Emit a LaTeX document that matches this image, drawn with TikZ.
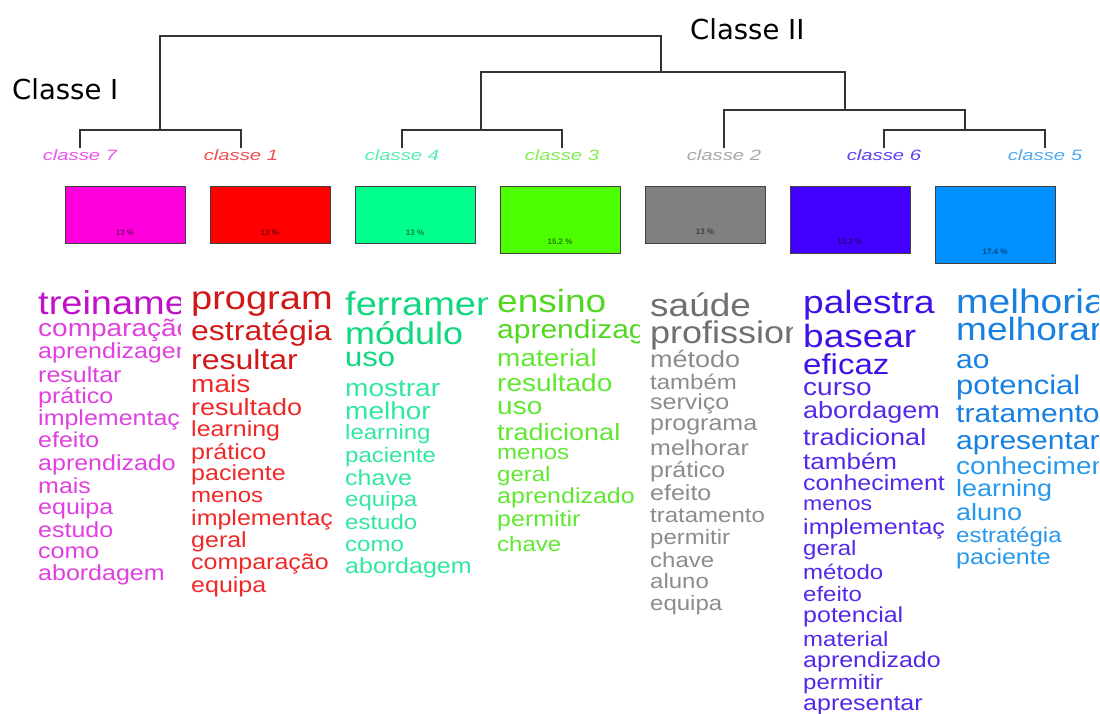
\documentclass[tikz,border=0pt]{standalone}
\usepackage{fontspec}
\setmainfont{Liberation Sans}
\newfontfamily\verd{DejaVu Sans}
\definecolor{bx7}{HTML}{FF00DD}
\definecolor{bx1}{HTML}{FF0000}
\definecolor{bx4}{HTML}{00FF8C}
\definecolor{bx3}{HTML}{4DFF00}
\definecolor{bx2}{HTML}{808080}
\definecolor{bx6}{HTML}{4400FF}
\definecolor{bx5}{HTML}{0090FF}
\definecolor{lb7}{HTML}{EE55EE}
\definecolor{lb1}{HTML}{F05050}
\definecolor{lb4}{HTML}{55EEB0}
\definecolor{lb3}{HTML}{80EE50}
\definecolor{lb2}{HTML}{A8A8A8}
\definecolor{lb6}{HTML}{6040EE}
\definecolor{lb5}{HTML}{50A8F0}
\definecolor{cA}{HTML}{000000}
\definecolor{cB}{HTML}{000000}
\newcounter{wc}
\newcommand\sx{1.15}
\newcommand\wrd[3]{\stepcounter{wc}%
  \ifdim#1pt>29pt\colorlet{wcol}{cA}\else\colorlet{wcol}{cB}\fi
  \pgfmathsetmacro\fsz{#1/\sx}%
  \node[word,text=wcol,font=\fontsize{\fsz}{\fsz}\selectfont] (w\thewc) at (\colx,#2) {\scalebox{\sx}[1]{#3}};}
\newcommand\clab[1]{\scalebox{1.35}[1]{#1}}
\tikzset{
  word/.style={anchor=base west,inner sep=0pt},
  dend/.style={draw=black!80,line width=1.4pt},
  cls/.style={anchor=north,inner sep=1pt,font=\fontsize{15}{15}\selectfont\itshape},
  box/.style={draw=black!75,line width=1.3pt,anchor=north west,minimum width=120pt,inner sep=0pt},
  pct/.style={inner sep=0pt,font=\fontsize{8}{8}\selectfont\bfseries},
  big/.style={inner sep=0pt,anchor=base west,font=\verd\fontsize{27.5}{27.5}\selectfont}
}
\begin{document}
\begin{tikzpicture}[x=1pt,y=-1pt]
\useasboundingbox[fill=white] (0,0) rectangle (1100,714);
% class labels
\node[cls,text=lb7] (c7) at (80,148) {\clab{classe 7}};
\node[cls,text=lb1] (c1) at (241,148) {\clab{classe 1}};
\node[cls,text=lb4] (c4) at (402,148) {\clab{classe 4}};
\node[cls,text=lb3] (c3) at (562,148) {\clab{classe 3}};
\node[cls,text=lb2] (c2) at (724,148) {\clab{classe 2}};
\node[cls,text=lb6] (c6) at (884,148) {\clab{classe 6}};
\node[cls,text=lb5] (c5) at (1045,148) {\clab{classe 5}};
% dendrogram junctions
\coordinate (j71) at (160,130);
\coordinate (j43) at (481,130);
\coordinate (j65) at (965,130);
\coordinate (j265) at (845,110);
\coordinate (jR) at (661,72);
\coordinate (jT) at (410,36);
\draw[dend] (c7.north) |- (j71) -| (c1.north);
\draw[dend] (c4.north) |- (j43) -| (c3.north);
\draw[dend] (c6.north) |- (j65) -| (c5.north);
\draw[dend] (c2.north) |- (j265) -| (j65);
\draw[dend] (j43) |- (jR) -| (j265);
\draw[dend] (j71) |- (jT) -| (jR);
\node[big] (cI) at (12,100) {Classe I};
\node[big] (cII) at (690,40) {Classe II};
% boxes
\node[box,fill=bx7,minimum height=57pt] (b7) at (65,186) {};
\node[box,fill=bx1,minimum height=57pt] (b1) at (210,186) {};
\node[box,fill=bx4,minimum height=57pt] (b4) at (355,186) {};
\node[box,fill=bx3,minimum height=67pt] (b3) at (500,186) {};
\node[box,fill=bx2,minimum height=57pt] (b2) at (645,186) {};
\node[box,fill=bx6,minimum height=67pt] (b6) at (790,186) {};
\node[box,fill=bx5,minimum height=77pt] (b5) at (935,186) {};
\node[pct,text=bx7!50!black] (p7) at (125,233) {13 \%};
\node[pct,text=bx1!50!black] (p1) at (270,233) {13 \%};
\node[pct,text=bx4!50!black] (p4) at (415,233) {13 \%};
\node[pct,text=bx3!50!black] (p3) at (560,242) {15.2 \%};
\node[pct,text=bx2!50!black] (p2) at (705,232) {13 \%};
\node[pct,text=bx6!50!black] (p6) at (850,242) {15.2 \%};
\node[pct,text=bx5!50!black] (p5) at (995,252) {17.4 \%};
% column 7
\begin{scope}
\def\colx{38}
\definecolor{cA}{HTML}{C010C8}\definecolor{cB}{HTML}{E040E0}
\clip (\colx,280) rectangle (\colx+142,714);
\wrd{38}{314}{treinamento}
\wrd{28}{336}{comparação}
\wrd{25}{358}{aprendizagem}
\wrd{25}{382}{resultar}
\wrd{25}{403}{prático}
\wrd{25}{425}{implementação}
\wrd{25}{447}{efeito}
\wrd{25}{470}{aprendizado}
\wrd{25}{493}{mais}
\wrd{25}{514}{equipa}
\wrd{25}{537}{estudo}
\wrd{25}{558}{como}
\wrd{25}{580}{abordagem}
\end{scope}
% column 1
\begin{scope}
\def\colx{191}
\definecolor{cA}{HTML}{D01818}\definecolor{cB}{HTML}{F02828}
\clip (\colx,280) rectangle (\colx+142,714);
\wrd{38}{309}{program}
\wrd{32}{340}{estratégia}
\wrd{32}{369}{resultar}
\wrd{28}{392}{mais}
\wrd{27}{415}{resultado}
\wrd{25}{436}{learning}
\wrd{25}{459}{prático}
\wrd{25}{480}{paciente}
\wrd{24}{502}{menos}
\wrd{25}{525}{implementação}
\wrd{25}{547}{geral}
\wrd{25}{569}{comparação}
\wrd{25}{592}{equipa}
\end{scope}
% column 4
\begin{scope}
\def\colx{345}
\definecolor{cA}{HTML}{10D880}\definecolor{cB}{HTML}{30E8A0}
\clip (\colx,280) rectangle (\colx+142,714);
\wrd{38}{315}{ferramenta}
\wrd{36}{344}{módulo}
\wrd{31}{366}{uso}
\wrd{28}{396}{mostrar}
\wrd{28}{419}{melhor}
\wrd{24}{439}{learning}
\wrd{24}{462}{paciente}
\wrd{25}{485}{chave}
\wrd{24}{506}{equipa}
\wrd{24}{529}{estudo}
\wrd{24}{551}{como}
\wrd{25}{573}{abordagem}
\end{scope}
% column 3
\begin{scope}
\def\colx{497}
\definecolor{cA}{HTML}{50D820}\definecolor{cB}{HTML}{60E830}
\clip (\colx,280) rectangle (\colx+142,714);
\wrd{37}{312}{ensino}
\wrd{30}{338}{aprendizagem}
\wrd{28}{366}{material}
\wrd{28}{391}{resultado}
\wrd{28}{414}{uso}
\wrd{27}{440}{tradicional}
\wrd{24}{459}{menos}
\wrd{24}{481}{geral}
\wrd{25}{503}{aprendizado}
\wrd{25}{526}{permitir}
\wrd{24}{551}{chave}
\end{scope}
% column 2
\begin{scope}
\def\colx{650}
\definecolor{cA}{HTML}{707070}\definecolor{cB}{HTML}{8C8C8C}
\clip (\colx,280) rectangle (\colx+142,714);
\wrd{37}{316}{saúde}
\wrd{36}{343}{profissional}
\wrd{27}{367}{método}
\wrd{24}{389}{também}
\wrd{25}{409}{serviço}
\wrd{25}{430}{programa}
\wrd{25}{455}{melhorar}
\wrd{25}{477}{prático}
\wrd{25}{500}{efeito}
\wrd{24}{522}{tratamento}
\wrd{24}{544}{permitir}
\wrd{24}{567}{chave}
\wrd{24}{588}{aluno}
\wrd{24}{610}{equipa}
\end{scope}
% column 6
\begin{scope}
\def\colx{803}
\definecolor{cA}{HTML}{4010E8}\definecolor{cB}{HTML}{5528E8}
\clip (\colx,280) rectangle (\colx+142,714);
\wrd{37}{313}{palestra}
\wrd{37}{347}{basear}
\wrd{33}{374}{eficaz}
\wrd{28}{395}{curso}
\wrd{27}{418}{abordagem}
\wrd{27}{445}{tradicional}
\wrd{26}{469}{também}
\wrd{25}{490}{conhecimento}
\wrd{23}{510}{menos}
\wrd{25}{534}{implementação}
\wrd{24}{555}{geral}
\wrd{24}{579}{método}
\wrd{24}{601}{efeito}
\wrd{25}{622}{potencial}
\wrd{24}{646}{material}
\wrd{25}{667}{aprendizado}
\wrd{24}{689}{permitir}
\wrd{25}{710}{apresentar}
\end{scope}
% column 5
\begin{scope}
\def\colx{956}
\definecolor{cA}{HTML}{1880E0}\definecolor{cB}{HTML}{2898EC}
\clip (\colx,280) rectangle (\colx+142,714);
\wrd{39}{313}{melhoria}
\wrd{37}{340}{melhorar}
\wrd{30}{368}{ao}
\wrd{31}{394}{potencial}
\wrd{30}{422}{tratamento}
\wrd{30}{449}{apresentar}
\wrd{28}{474}{conhecimento}
\wrd{27}{496}{learning}
\wrd{27}{520}{aluno}
\wrd{24}{542}{estratégia}
\wrd{25}{564}{paciente}
\end{scope}
\end{tikzpicture}
\end{document}
